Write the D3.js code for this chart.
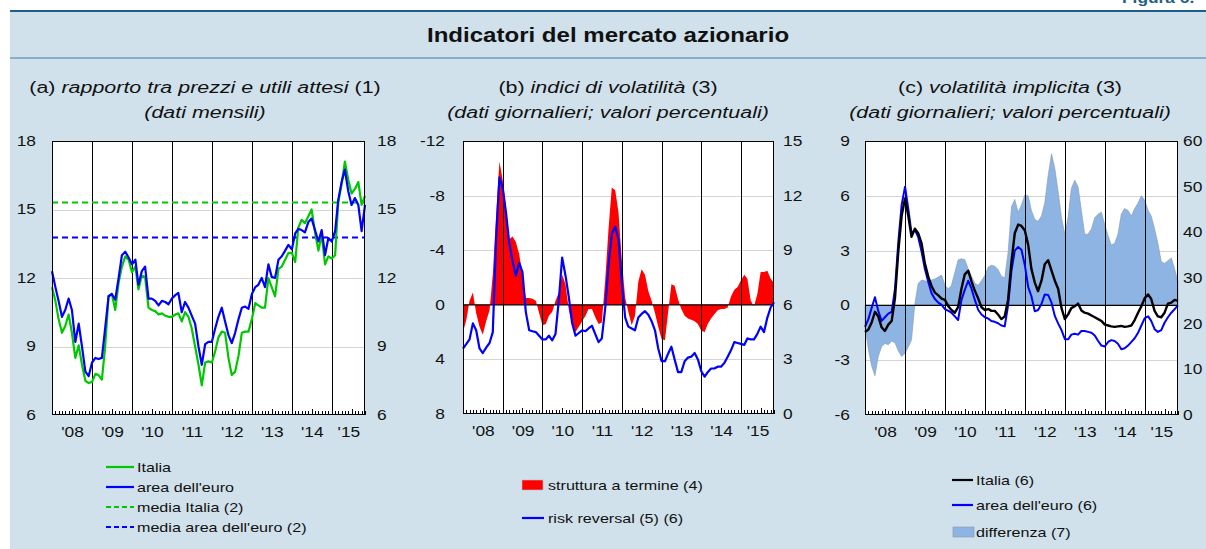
<!DOCTYPE html>
<head>
  <meta charset="utf-8">
  <script src="https://cdn.jsdelivr.net/npm/d3@7"></script>
  <style>
    body { margin:0; background:#fff; }
    svg { display:block; font-family:"Liberation Sans", Arial, Helvetica, sans-serif; }
  </style>
</head>
<body>
<script>
// mesi: gen 2008 - nov 2015
var mesi = d3.range(95).map(function(i){ return new Date(2008, i, 1); });
var anni = [2008, 2009, 2010, 2011, 2012, 2013, 2014, 2015];
var etichetteAnni = ["'08", "'09", "'10", "'11", "'12", "'13", "'14", "'15"];

// (a) rapporto prezzi / utili attesi
var peItalia = [11.6,11.0,10.2,9.6,9.9,10.4,9.6,8.5,9.05,8.2,
  7.5,7.4,7.45,7.8,7.75,7.55,9.0,11.2,11.3,10.6,
  11.8,12.5,12.95,12.8,12.25,12.5,11.5,12.1,12.05,10.7,
  10.6,10.55,10.4,10.45,10.35,10.3,10.3,10.4,10.45,10.1,
  10.5,10.3,9.8,9.0,8.2,7.3,8.3,8.35,8.3,8.8,
  9.4,9.65,9.6,8.5,7.75,7.9,8.6,9.6,9.65,9.65,
  10.2,10.9,10.8,10.7,10.7,12.0,11.6,11.2,12.4,12.5,
  12.8,13.1,13.1,12.7,14.2,14.55,14.4,14.7,15.0,14.0,
  13.2,13.9,12.6,12.95,12.85,13.0,15.3,16.1,17.1,16.3,
  15.7,15.9,16.2,15.2,15.6];
var peEuro = [12.3,11.6,11.0,10.3,10.6,11.1,10.6,9.2,10.0,9.0,
  7.9,7.7,8.3,8.5,8.45,8.5,9.8,11.2,11.3,11.05,
  12.0,13.0,13.15,12.9,12.6,12.8,11.7,12.3,12.5,11.1,
  11.1,11.0,10.8,11.0,10.95,10.85,11.1,11.25,11.35,10.5,
  10.95,10.7,10.35,10.0,9.0,8.2,9.1,9.2,9.2,9.8,
  10.3,10.7,10.1,9.5,9.15,9.6,10.2,10.7,10.75,10.65,
  11.3,11.6,11.7,12.0,11.6,12.6,12.05,12.0,12.8,12.95,
  13.2,13.45,13.25,13.95,14.15,14.1,14.0,14.45,14.6,14.1,
  13.6,14.1,13.0,13.75,13.6,14.05,15.4,16.2,16.75,15.8,
  15.2,15.5,15.2,14.05,15.2];
var mediaItalia = 15.31;
var mediaEuro = 13.77;

// (b) indici di volatilita'
var struttura = [2.0,1.1,-0.3,-0.9,0.6,1.6,2.2,1.2,0.4,-2.2,
  -6.6,-10.5,-9.1,-7.0,-4.8,-5.0,-4.6,-3.7,-2.2,-0.5,
  -0.5,-0.45,-0.3,0.6,1.5,1.4,0.8,0.5,-0.3,-0.9,
  -2.2,-1.5,0.4,1.4,2.0,1.6,1.2,0.8,0.3,0.3,
  0.9,1.4,1.3,-1.8,-5.6,-8.6,-8.4,-6.8,-3.3,-0.5,
  0.5,1.5,0.8,-1.7,-2.6,-2.2,-1.0,-0.3,0.6,1.6,
  2.5,2.6,0.6,-1.5,-1.4,-0.4,0.3,0.8,1.0,1.1,
  1.2,1.4,1.9,2.0,1.4,1.0,0.7,0.4,0.3,0.3,
  0.2,-0.6,-1.1,-1.3,-1.8,-2.2,-1.9,-0.3,0.1,-0.8,
  -2.4,-2.4,-2.5,-1.9,-1.6];
var riskReversal = [3.6,3.85,4.1,4.98,4.6,3.6,3.35,3.65,3.9,4.5,
  9.7,13.0,12.4,11.0,9.4,8.4,7.6,8.3,7.8,5.6,
  4.6,4.55,4.5,4.3,4.1,4.1,4.3,4.05,4.4,6.3,
  8.6,7.6,6.4,5.0,4.3,4.45,4.6,4.55,4.7,4.85,
  4.4,3.95,4.15,5.8,8.2,9.9,10.3,9.6,7.2,5.3,
  4.8,4.7,4.6,5.3,5.5,5.65,5.45,5.1,4.6,3.6,
  2.9,2.9,3.3,3.7,3.0,2.3,2.3,2.9,3.1,3.15,
  3.35,3.0,2.35,2.05,2.3,2.5,2.5,2.6,2.6,2.8,
  3.15,3.5,3.95,3.9,3.85,3.8,4.15,4.1,4.1,4.4,
  4.8,4.5,5.3,5.85,6.15];

// (c) volatilita' implicita
var volItalia = [18.2,18.7,20.2,22.6,21.6,19.2,18.4,19.8,20.6,25.6,
  36.0,43.6,47.4,43.4,39.0,40.8,39.8,37.6,33.2,30.3,
  28.2,26.8,26.2,25.5,25.2,23.8,23.0,22.4,23.6,27.7,
  30.8,31.6,29.2,27.2,25.5,23.6,23.0,23.2,22.8,22.8,
  22.0,21.0,21.6,25.2,33.6,39.8,41.7,41.4,40.4,37.2,
  32.0,29.0,27.1,29.4,33.0,33.9,31.6,29.4,27.6,23.4,
  21.0,22.1,23.4,23.8,24.4,22.9,22.4,22.2,21.8,21.4,
  21.0,20.6,19.8,19.6,19.4,19.3,19.4,19.5,19.3,19.4,
  19.6,20.8,22.4,23.8,25.6,26.4,25.4,22.8,21.6,21.4,
  22.4,24.4,24.6,25.2,25.0];
var volEuro = [19.3,21.0,23.4,25.8,22.8,20.6,21.4,22.2,22.6,27.6,
  38.0,46.0,50.0,44.9,39.8,40.5,39.0,35.8,32.0,29.2,
  26.6,25.4,24.6,24.1,23.2,22.8,22.4,21.6,20.8,25.2,
  27.4,29.4,27.6,25.2,23.0,22.0,21.4,21.1,20.6,20.4,
  20.1,19.6,19.4,24.0,31.6,36.0,36.8,36.2,32.8,28.0,
  26.0,22.7,23.0,24.3,26.4,26.3,24.6,21.7,20.0,18.6,
  16.6,16.6,17.6,17.8,17.6,18.4,18.4,18.2,18.0,17.4,
  16.2,15.2,15.0,16.0,16.4,16.2,15.6,14.4,14.6,15.2,
  16.0,16.8,18.0,19.6,21.2,21.6,20.6,18.8,18.2,18.6,
  20.2,21.4,22.4,23.2,24.0];
var differenza = [-1.17,-2.4,-3.3,-3.85,-2.8,-2.26,-2.08,-2.15,-1.95,-2.05,
  -2.5,-2.8,-2.62,-2.26,-1.9,0.1,1.2,1.39,1.35,1.3,
  1.39,1.45,1.55,1.66,1.1,0.9,1.1,1.8,2.49,2.55,
  2.5,2.0,1.6,1.2,1.1,1.35,1.65,2.1,2.2,2.15,
  1.96,1.6,1.5,2.9,5.4,5.8,5.1,5.5,6.05,6.0,
  5.2,4.7,4.6,4.9,5.6,7.1,8.3,7.5,6.2,4.8,
  3.9,4.9,6.4,6.85,6.5,5.2,3.9,3.9,4.2,4.8,
  5.0,5.1,4.4,3.8,3.3,3.4,3.9,5.0,5.3,5.2,
  4.9,5.3,5.6,6.0,5.75,5.2,4.9,4.2,3.4,2.4,
  2.3,2.45,2.6,2.0,1.3];

var W = 1206, H = 549;
var K = 1.24; // i testi del riferimento sono allargati in orizzontale
var verde = "#00c800", blu = "#0000ff", rosso = "#ff0000", azzurro = "#8db4e2";

var svg = d3.select("body").append("svg")
  .attr("width", W)
  .attr("height", H);

function posa(sel, x, y) {
  return sel.attr("transform", "translate(" + x + "," + y + ") scale(" + K + ",1)");
}

// cornice della figura
svg.append("rect").attr("x", 10).attr("y", 10).attr("width", W - 10).attr("height", H - 10)
  .attr("fill", "#d0e1eb");
svg.append("line").attr("x1", 10).attr("x2", W).attr("y1", 11).attr("y2", 11)
  .attr("stroke", "#1f5e87").attr("stroke-width", 2);
svg.append("line").attr("x1", 10).attr("x2", W).attr("y1", 58).attr("y2", 58)
  .attr("stroke", "#3f7fab").attr("stroke-width", 1);
posa(svg.append("text"), 1122, 3)
  .attr("font-size", 14).attr("font-weight", "bold").attr("fill", "#1f5e87")
  .text("Figura 6.");
posa(svg.append("text"), 608, 42).attr("text-anchor", "middle")
  .attr("font-size", 19.4).attr("font-weight", "bold").attr("fill", "#111")
  .text("Indicatori del mercato azionario");

function titolo(cx, parti, riga2) {
  var t = posa(svg.append("text"), cx, 93).attr("text-anchor", "middle")
    .attr("font-size", 17.3).attr("fill", "#111");
  parti.forEach(function(p) {
    t.append("tspan").attr("font-style", p[1] ? "italic" : "normal").text(p[0]);
  });
  posa(svg.append("text"), cx, 118).attr("text-anchor", "middle")
    .attr("font-size", 17.3).attr("font-style", "italic").attr("fill", "#111")
    .text(riga2);
}

function pannello(p) {
  var x = d3.scaleTime().domain([mesi[0], mesi[mesi.length - 1]]).range([p.x0, p.x1]);
  var yL = d3.scaleLinear().domain(p.domL).range([p.y1, p.y0]);
  var yR = d3.scaleLinear().domain(p.domR).range([p.y1, p.y0]);
  var g = svg.append("g");
  var fmt = function(d) { return String(d); };

  g.append("rect").attr("x", p.x0).attr("y", p.y0)
    .attr("width", p.x1 - p.x0).attr("height", p.y1 - p.y0).attr("fill", "#fff");

  g.selectAll(".griglia").data(p.griglia).enter().append("line")
    .attr("x1", p.x0).attr("x2", p.x1)
    .attr("y1", function(d) { return Math.round(yL(d)) + 0.5; })
    .attr("y2", function(d) { return Math.round(yL(d)) + 0.5; })
    .attr("stroke", "#d4d4d4").attr("stroke-width", 1);

  var assi = svg.append("g");
  var aL = assi.append("g").attr("transform", "translate(" + p.x0 + ",0)")
    .call(d3.axisLeft(yL).tickValues(p.tickL).tickSize(0).tickFormat(fmt));
  aL.selectAll("text").attr("x", -p.padL / K);
  var aR = assi.append("g").attr("transform", "translate(" + p.x1 + ",0)")
    .call(d3.axisRight(yR).tickValues(p.tickR).tickSize(0).tickFormat(fmt));
  aR.selectAll("text").attr("x", p.padR / K);

  var centri = anni.map(function(a) {
    var s = Math.max(+new Date(a, 0, 1), +x.domain()[0]);
    var e = Math.min(+new Date(a + 1, 0, 1), +x.domain()[1]);
    return new Date((s + e) / 2);
  });
  assi.append("g").attr("transform", "translate(0," + p.y1 + ")")
    .call(d3.axisBottom(x).tickValues(centri).tickSize(0).tickPadding(12)
      .tickFormat(function(d, i) { return etichetteAnni[i]; }));

  assi.selectAll(".domain").remove();
  assi.selectAll("text").attr("font-size", 14).attr("fill", "#111")
    .attr("transform", "scale(" + K + ",1)")
    .attr("font-family", "'Liberation Sans', Arial, Helvetica, sans-serif");

  return { g: g, x: x, yL: yL, yR: yR, p: p };
}

function finitura(P) {
  var g = P.g, x = P.x, p = P.p;
  var limiti = anni.slice(1).map(function(a) { return new Date(a, 0, 1); });
  g.selectAll(".anno").data(limiti).enter().append("line")
    .attr("x1", function(d) { return Math.round(x(d)) + 0.5; })
    .attr("x2", function(d) { return Math.round(x(d)) + 0.5; })
    .attr("y1", p.y0).attr("y2", p.y1)
    .attr("stroke", "#000").attr("stroke-width", 1);
  g.selectAll(".mese").data(mesi).enter().append("line")
    .attr("x1", function(d) { return Math.round(x(d)) + 0.5; })
    .attr("x2", function(d) { return Math.round(x(d)) + 0.5; })
    .attr("y1", p.y1)
    .attr("y2", function(d) { return p.y1 - (d.getMonth() === 6 ? 6 : 4); })
    .attr("stroke", "#000").attr("stroke-width", 1);
}

function cornice(P) {
  var p = P.p;
  P.g.append("rect").attr("x", p.x0 + 0.5).attr("y", p.y0 + 0.5)
    .attr("width", p.x1 - p.x0 - 1).attr("height", p.y1 - p.y0 - 1)
    .attr("fill", "none").attr("stroke", "#000").attr("stroke-width", 1);
}

function linea(P, serie, scala, colore, spessore) {
  var gen = d3.line()
    .x(function(d, i) { return P.x(mesi[i]); })
    .y(function(d) { return scala(d); });
  P.g.append("path").datum(serie).attr("d", gen)
    .attr("fill", "none").attr("stroke", colore).attr("stroke-width", spessore)
    .attr("stroke-linejoin", "round");
}

// ---- pannello (a)
titolo(205, [["(a) ", false], ["rapporto tra prezzi e utili attesi", true], [" (1)", false]], "(dati mensili)");
var A = pannello({ x0: 52, x1: 365, y0: 141, y1: 415,
  domL: [6, 18], domR: [6, 18], tickL: [6, 9, 12, 15, 18], tickR: [6, 9, 12, 15, 18],
  griglia: [9, 12, 15], padL: 16, padR: 12 });
finitura(A);
[[mediaItalia, verde], [mediaEuro, blu]].forEach(function(m) {
  A.g.append("line").attr("x1", A.p.x0).attr("x2", A.p.x1)
    .attr("y1", A.yL(m[0])).attr("y2", A.yL(m[0]))
    .attr("stroke", m[1]).attr("stroke-width", 2).attr("stroke-dasharray", "6,4");
});
linea(A, peItalia, A.yL, verde, 2.2);
linea(A, peEuro, A.yL, blu, 2.2);
cornice(A);

// ---- pannello (b)
titolo(608, [["(b) ", false], ["indici di volatilità", true], [" (3)", false]], "(dati giornalieri; valori percentuali)");
var B = pannello({ x0: 463, x1: 774, y0: 141, y1: 414,
  domL: [8, -12], domR: [0, 15], tickL: [-12, -8, -4, 0, 4, 8], tickR: [0, 3, 6, 9, 12, 15],
  griglia: [-8, -4, 4], padL: 18, padR: 9 });
B.g.append("path").datum(struttura)
  .attr("d", d3.area()
    .x(function(d, i) { return B.x(mesi[i]); })
    .y0(B.yL(0))
    .y1(function(d) { return B.yL(d); }))
  .attr("fill", rosso);
finitura(B);
B.g.append("line").attr("x1", B.p.x0).attr("x2", B.p.x1)
  .attr("y1", B.yL(0)).attr("y2", B.yL(0)).attr("stroke", "#000").attr("stroke-width", 1.3);
linea(B, riskReversal, B.yR, blu, 2.2);
cornice(B);

// ---- pannello (c)
titolo(1010, [["(c) ", false], ["volatilità implicita", true], [" (3)", false]], "(dati giornalieri; valori percentuali)");
var C = pannello({ x0: 865, x1: 1178, y0: 141, y1: 415,
  domL: [-6, 9], domR: [0, 60], tickL: [-6, -3, 0, 3, 6, 9], tickR: [0, 10, 20, 30, 40, 50, 60],
  griglia: [-3, 3, 6], padL: 15, padR: 5 });
C.g.append("path").datum(differenza)
  .attr("d", d3.area()
    .x(function(d, i) { return C.x(mesi[i]); })
    .y0(C.yL(0))
    .y1(function(d) { return C.yL(d); }))
  .attr("fill", azzurro).attr("stroke", "#8797aa").attr("stroke-width", 0.6);
finitura(C);
C.g.append("line").attr("x1", C.p.x0).attr("x2", C.p.x1)
  .attr("y1", C.yL(0)).attr("y2", C.yL(0)).attr("stroke", "#000").attr("stroke-width", 1.3);
linea(C, volEuro, C.yR, blu, 2);
linea(C, volItalia, C.yR, "#000", 2.4);
cornice(C);

// ---- legende
var leg = svg.append("g").attr("font-size", 13).attr("fill", "#111");
function voceTesto(x, y, testo) {
  posa(leg.append("text"), x, y).attr("dy", "0.35em").text(testo);
}
function voceLinea(x, y, colore, tratteggio, testo, lung) {
  leg.append("line").attr("x1", x).attr("x2", x + lung).attr("y1", y).attr("y2", y)
    .attr("stroke", colore).attr("stroke-width", 2.2).attr("stroke-dasharray", tratteggio);
  if (testo) voceTesto(x + lung + 3, y, testo);
}
function voceArea(x, y, colore, bordo, testo, dx) {
  leg.append("rect").attr("x", x).attr("y", y - 5).attr("width", 21).attr("height", 10)
    .attr("fill", colore).attr("stroke", bordo).attr("stroke-width", 0.6);
  voceTesto(x + dx, y, testo);
}
voceLinea(106, 467, verde, null, "Italia", 28);
voceLinea(106, 487, blu, null, "area dell'euro", 28);
voceLinea(106, 507, verde, "5,3", "media Italia (2)", 28);
voceLinea(106, 527, blu, "5,3", "media area dell'euro (2)", 28);

voceArea(522, 485, rosso, "#bbb", "struttura a termine (4)", 26);
voceLinea(522, 518, blu, null, "", 22);
voceTesto(548, 518, "risk reversal (5) (6)");

voceLinea(952, 480, "#000", null, "Italia (6)", 21);
voceLinea(952, 505, blu, null, "area dell'euro (6)", 21);
voceArea(953, 532, azzurro, "#8797aa", "differenza (7)", 23);
</script>
</body>
